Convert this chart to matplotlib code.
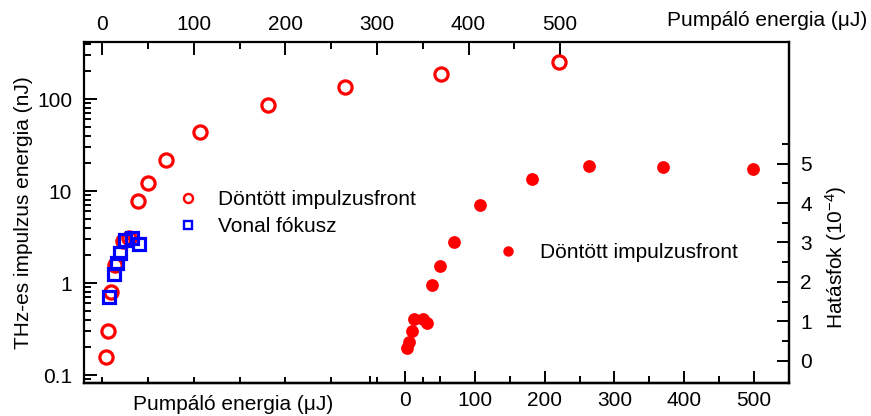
import matplotlib
matplotlib.use('Agg')
import matplotlib.pyplot as plt
from matplotlib.lines import Line2D
from matplotlib.ticker import FixedLocator, FuncFormatter, NullFormatter

plt.rcParams['font.family'] = ['Liberation Sans', 'DejaVu Sans']
plt.rcParams['mathtext.fontset'] = 'custom'
plt.rcParams['mathtext.rm'] = 'Liberation Sans'
plt.rcParams['mathtext.it'] = 'Liberation Sans:italic'
plt.rcParams['mathtext.bf'] = 'Liberation Sans:bold'

# ---- data ----
pump_tilted = [4.0, 5.8, 9.5, 14.2, 22.9, 29.4, 38.9, 49.4, 69.8, 106.8, 181, 265, 369.5, 499]
thz_tilted = [0.156, 0.303, 0.79, 1.57, 2.86, 3.08, 7.8, 12.3, 21.7, 43.8, 86, 135, 187, 252]
pump_line = [7.6, 13.1, 16.0, 18.9, 24.3, 32.4, 40.3]
thz_line = [0.71, 1.27, 1.64, 2.10, 2.93, 3.06, 2.63]
pump_eff = [3.4, 5.3, 9.2, 12.5, 25.8, 30.7, 38.7, 49.7, 69.8, 107, 182.5, 263.6, 369.6, 498.6]
eff = [0.32, 0.49, 0.76, 1.06, 1.06, 0.95, 1.92, 2.41, 3.02, 3.95, 4.61, 4.94, 4.92, 4.86]

top_ticks = [0, 100, 200, 300, 400, 500]
left_ticks = [0.1, 1, 10, 100]
right_ticks = [0, 1, 2, 3, 4, 5]
inset_x_ticks = [0, 100, 200, 300, 400, 500]

label_tilted = 'Döntött impulzusfront'
label_line = 'Vonal fókusz'

RED = '#ff0000'
BLUE = '#0000ff'
FS = 15

W, H = 871, 416
fig = plt.figure(figsize=(W / 100, H / 100), dpi=100)
rect = [84 / W, 1 - 383 / H, (789 - 84) / W, (383 - 42) / H]

ax = fig.add_axes(rect)
ax.set_yscale('log')
ax.set_xlim(-20, 750)
ax.set_ylim(0.082, 417)

ax.plot(pump_tilted, thz_tilted, 'o', ls='none', mfc='none', mec=RED, mew=2.3, ms=9.5, zorder=3)
ax.plot(pump_line, thz_line, 's', ls='none', mfc='none', mec=BLUE, mew=2.3, ms=9.0, zorder=4)

for s in ax.spines.values():
    s.set_linewidth(1.6)

ax.xaxis.tick_top()
ax.set_xticks(top_ticks)
ax.xaxis.set_minor_locator(FixedLocator(list(range(50, 451, 100))))
ax.tick_params(axis='x', which='both', direction='in', top=True, bottom=False,
               labeltop=True, labelbottom=False, labelsize=FS, width=1.4)
ax.tick_params(axis='x', which='major', length=9, pad=6)
ax.tick_params(axis='x', which='minor', length=5)

ax.yaxis.set_major_locator(FixedLocator(left_ticks))
ax.yaxis.set_major_formatter(FuncFormatter(lambda v, p: ('%g' % v)))
ax.yaxis.set_minor_formatter(NullFormatter())
ax.tick_params(axis='y', which='both', direction='in', left=True, right=False,
               labelsize=FS, width=1.4)
ax.tick_params(axis='y', which='major', length=9, pad=8.5)
ax.tick_params(axis='y', which='minor', length=5)
ax.set_ylabel('THz-es impulzus energia (nJ)', fontsize=FS)
ax.yaxis.set_label_coords((33 - 84) / (789 - 84), 0.5)

sec = ax.secondary_xaxis('bottom')
sec.set_xticks(list(range(0, 351, 50)))
sec.tick_params(axis='x', direction='in', length=4, width=1.4, labelbottom=False)
sec.spines['bottom'].set_linewidth(1.6)

h1 = Line2D([], [], marker='o', ls='none', mfc='none', mec=RED, mew=1.7, ms=6.5)
h2 = Line2D([], [], marker='s', ls='none', mfc='none', mec=BLUE, mew=1.7, ms=6)
leg = ax.legend([h1, h2], [label_tilted, label_line], loc='upper left',
                bbox_to_anchor=(178 / W, 1 - 190 / H), bbox_transform=fig.transFigure,
                frameon=False, fontsize=FS, handlelength=1.0, handletextpad=0.9,
                labelspacing=0.38, borderpad=0, borderaxespad=0)

# inset (efficiency)
ax2 = fig.add_axes(rect, facecolor='none')
ax2.set_xlim(-460, 550)
ax2.set_ylim(-0.56, 8.08)
ax2.plot(pump_eff, eff, 'o', ls='none', color=RED, ms=9.2, mew=0, zorder=3)
for k in ['top', 'left']:
    ax2.spines[k].set_visible(False)
for k in ['right', 'bottom']:
    ax2.spines[k].set_linewidth(1.6)
ax2.yaxis.tick_right()
ax2.set_yticks(right_ticks)
ax2.yaxis.set_minor_locator(FixedLocator([0.5, 1.5, 2.5, 3.5, 4.5, 5.5]))
ax2.tick_params(axis='y', which='both', direction='in', left=False, right=True,
                labelsize=FS, width=1.4)
ax2.tick_params(axis='y', which='major', length=9, pad=8)
ax2.tick_params(axis='y', which='minor', length=5)
ax2.set_xticks(inset_x_ticks)
ax2.xaxis.set_minor_locator(FixedLocator([-50, 50, 150, 250, 350, 450]))
ax2.tick_params(axis='x', which='both', direction='in', top=False, bottom=True,
                labelsize=FS, width=1.4)
ax2.tick_params(axis='x', which='major', length=9, pad=6)
ax2.tick_params(axis='x', which='minor', length=5)

h3 = Line2D([], [], marker='o', ls='none', color=RED, mew=0, ms=7.5)
ax2.legend([h3], [label_tilted], loc='center left',
           bbox_to_anchor=(498 / W, 1 - 253 / H), bbox_transform=fig.transFigure,
           frameon=False, fontsize=FS, handlelength=1.0, handletextpad=1.0,
           borderpad=0, borderaxespad=0)

fig.text(233 / W, 1 - 404 / H, 'Pumpáló energia (μJ)', fontsize=FS, ha='center', va='center')
fig.text(867 / W, 1 - 21 / H, 'Pumpáló energia (μJ)', fontsize=FS, ha='right', va='center')
fig.text(836 / W, 1 - 257 / H, 'Hatásfok (10$^{-4}$)', fontsize=FS, ha='center', va='center',
         rotation=90)

fig.savefig('out.png', dpi=100)
